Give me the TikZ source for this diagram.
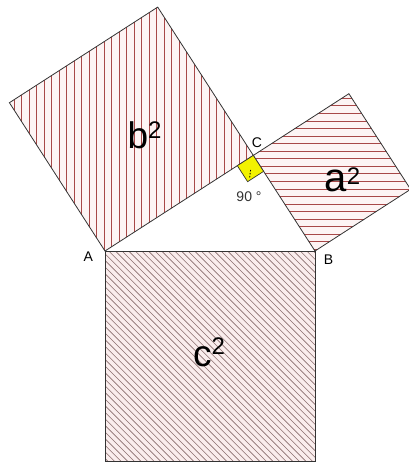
\documentclass[tikz,border=0pt]{standalone}
\usepackage{fontspec}
\setmainfont{Liberation Sans}
\usetikzlibrary{calc}
\definecolor{edgecol}{HTML}{333333}
\definecolor{hatchred}{HTML}{A84848}
\definecolor{hatchbrown}{HTML}{8A6E6E}
\definecolor{pinkbg}{HTML}{FDF4F4}
\definecolor{pinkbgc}{HTML}{FAEDED}
\definecolor{angleyellow}{HTML}{F2F200}
\definecolor{labelgray}{HTML}{333333}
\tikzset{
  sqedge/.style={draw=edgecol, line width=0.8pt, line join=miter},
  hatchA/.style={draw=hatchred, line width=0.85pt},
  hatchC/.style={draw=hatchbrown, line width=0.6pt},
  vertexlabel/.style={font=\fontsize{14}{16}\selectfont, text=black, inner sep=0pt, anchor=base},
  arealabel/.style={text=black, inner sep=0pt, anchor=base},
}
\newcommand{\sqlabel}[3]{\fontsize{#2}{#2}\selectfont #1\raisebox{#3}{\fontsize{24}{26}\selectfont 2}}
\begin{document}
\begin{tikzpicture}[x=1pt,y=-1pt]
\useasboundingbox (0,0) rectangle (408,464);
% triangle vertices
\coordinate (A) at (105,251);
\coordinate (B) at (315,251);
\coordinate (C) at (253.3,155.4);
% b^2 square
\coordinate (Ct) at (157.7,7.1);
\coordinate (At) at (9.4,102.7);
% a^2 square
\coordinate (Cr) at (348.9,93.7);
\coordinate (Br) at (410.6,189.3);
% c^2 square
\coordinate (Bd) at (315,461);
\coordinate (Ad) at (105,461);

% fills
\fill[pinkbg] (A) -- (C) -- (Ct) -- (At) -- cycle;
\fill[pinkbg] (B) -- (C) -- (Cr) -- (Br) -- cycle;
\fill[pinkbgc] (A) -- (B) -- (Bd) -- (Ad) -- cycle;

% hatching b^2 (vertical)
\begin{scope}
\clip (A) -- (C) -- (Ct) -- (At) -- cycle;
\foreach \x in {6.5,14,...,262} \draw[hatchA] (\x,0) -- (\x,260);
\end{scope}
% hatching a^2 (horizontal)
\begin{scope}
\clip (B) -- (C) -- (Cr) -- (Br) -- cycle;
\foreach \y in {90.8,98.35,...,256} \draw[hatchA] (245,\y) -- (415,\y);
\end{scope}
% hatching c^2 (diagonal)
\begin{scope}
\clip (A) -- (B) -- (Bd) -- (Ad) -- cycle;
\foreach \s in {-214,-207.4,...,214} \draw[hatchC] (105+\s,251) -- (105+\s+212,463);
\end{scope}

% outlines
\draw[sqedge] (A) -- (C) -- (Ct) -- (At) -- cycle;
\draw[sqedge] (B) -- (C) -- (Cr) -- (Br) -- cycle;
\draw[sqedge] (A) -- (B) -- (Bd) -- (Ad) -- cycle;

% right angle mark
\coordinate (Y1) at ($(C)!19pt!(A)$);
\coordinate (Y2) at ($(C)!19pt!(B)$);
\coordinate (Y3) at ($(Y1)+(Y2)-(C)$);
\draw[sqedge, fill=angleyellow, line width=0.7pt] (C) -- (Y1) -- (Y3) -- (Y2) -- cycle;
\draw[black, line width=0.9pt, dash pattern=on 1.4pt off 1.6pt] (250.6,170) -- (249.6,178);

% labels
\node[vertexlabel] (lA) at (88.3,261) {A};
\node[vertexlabel] (lB) at (328.5,264) {B};
\node[vertexlabel] (lC) at (257,147) {C};
\node[vertexlabel, text=labelgray] (l90) at (249,201.5) {90 °};

\node[arealabel] (b2) at (144.5,148.5) {\sqlabel{b}{37}{10pt}};
\node[arealabel] (a2) at (342.5,191.7) {\sqlabel{a}{40}{7pt}};
\node[arealabel] (c2) at (209,366) {\sqlabel{c}{37}{12pt}};
\end{tikzpicture}
\end{document}
